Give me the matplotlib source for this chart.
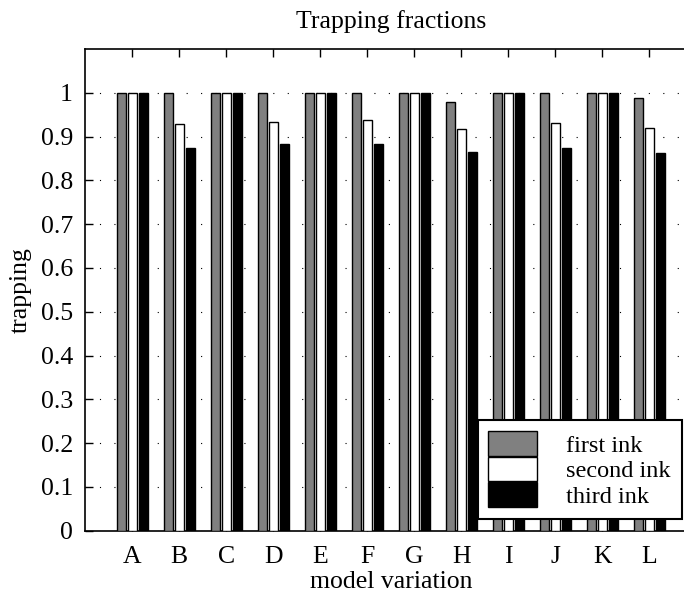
import numpy as np
import matplotlib
matplotlib.use('Agg')
import matplotlib.pyplot as plt

# data
variations = ['A', 'B', 'C', 'D', 'E', 'F', 'G', 'H', 'I', 'J', 'K', 'L']
first_ink  = [1.0, 1.0,   1.0, 1.0,   1.0, 1.0,   1.0, 0.978, 1.0, 1.0,   1.0, 0.987]
second_ink = [1.0, 0.928, 1.0, 0.934, 1.0, 0.938, 1.0, 0.918, 1.0, 0.932, 1.0, 0.920]
third_ink  = [1.0, 0.873, 1.0, 0.882, 1.0, 0.884, 1.0, 0.865, 1.0, 0.874, 1.0, 0.863]
series_labels = ['first ink', 'second ink', 'third ink']
yticks = np.arange(0, 1.01, 0.1)
ytick_labels = ['0', '0.1', '0.2', '0.3', '0.4', '0.5', '0.6', '0.7', '0.8', '0.9', '1']

plt.rcParams['font.family'] = ['Liberation Serif', 'DejaVu Serif']
fs = 18.5

fig = plt.figure(figsize=(6.84, 5.99), dpi=100)
ax = fig.add_axes([85.3/684, 68.3/599, 13*47/684, 481.7/599])

x = np.arange(1, len(variations) + 1)
off = 0.23
w = 0.19
colors = ['#808080', 'white', 'black']
for i, (vals, c) in enumerate(zip([first_ink, second_ink, third_ink], colors)):
    ax.bar(x + (i - 1)*off, vals, width=w, color=c, edgecolor='black',
           linewidth=1.0, label=series_labels[i], zorder=3)

ax.set_xlim(0, 13)
ax.set_ylim(0, 1.1)
ax.set_xticks(x)
ax.set_xticklabels(variations)
ax.set_yticks(yticks)
ax.set_yticklabels(ytick_labels)
ax.tick_params(direction='in', length=6, width=1, top=True, right=True,
               labelsize=fs)
ax.tick_params(axis='x', pad=11)
ax.tick_params(axis='y', pad=9)
for s in ax.spines.values():
    s.set_linewidth(1.2)
# only horizontal dotted grid lines
ax.yaxis.grid(True, color='black', linestyle=(0, (1, 12)), linewidth=0.8, zorder=0)

ax.set_title('Trapping fractions', fontsize=fs, pad=15)
ax.set_xlabel('model variation', fontsize=fs, labelpad=2)
ax.set_ylabel('trapping', fontsize=fs, labelpad=6)

leg = ax.legend(loc='lower right', bbox_to_anchor=(681.7/684, 80.3/599),
                bbox_transform=fig.transFigure, fontsize=17.5, fancybox=False,
                framealpha=1, edgecolor='black', labelspacing=0.0,
                handlelength=2.0, handleheight=1.174, handletextpad=1.2,
                borderpad=0.45, borderaxespad=0)
leg.get_frame().set_linewidth(1.5)

fig.savefig('out.png', dpi=100)
